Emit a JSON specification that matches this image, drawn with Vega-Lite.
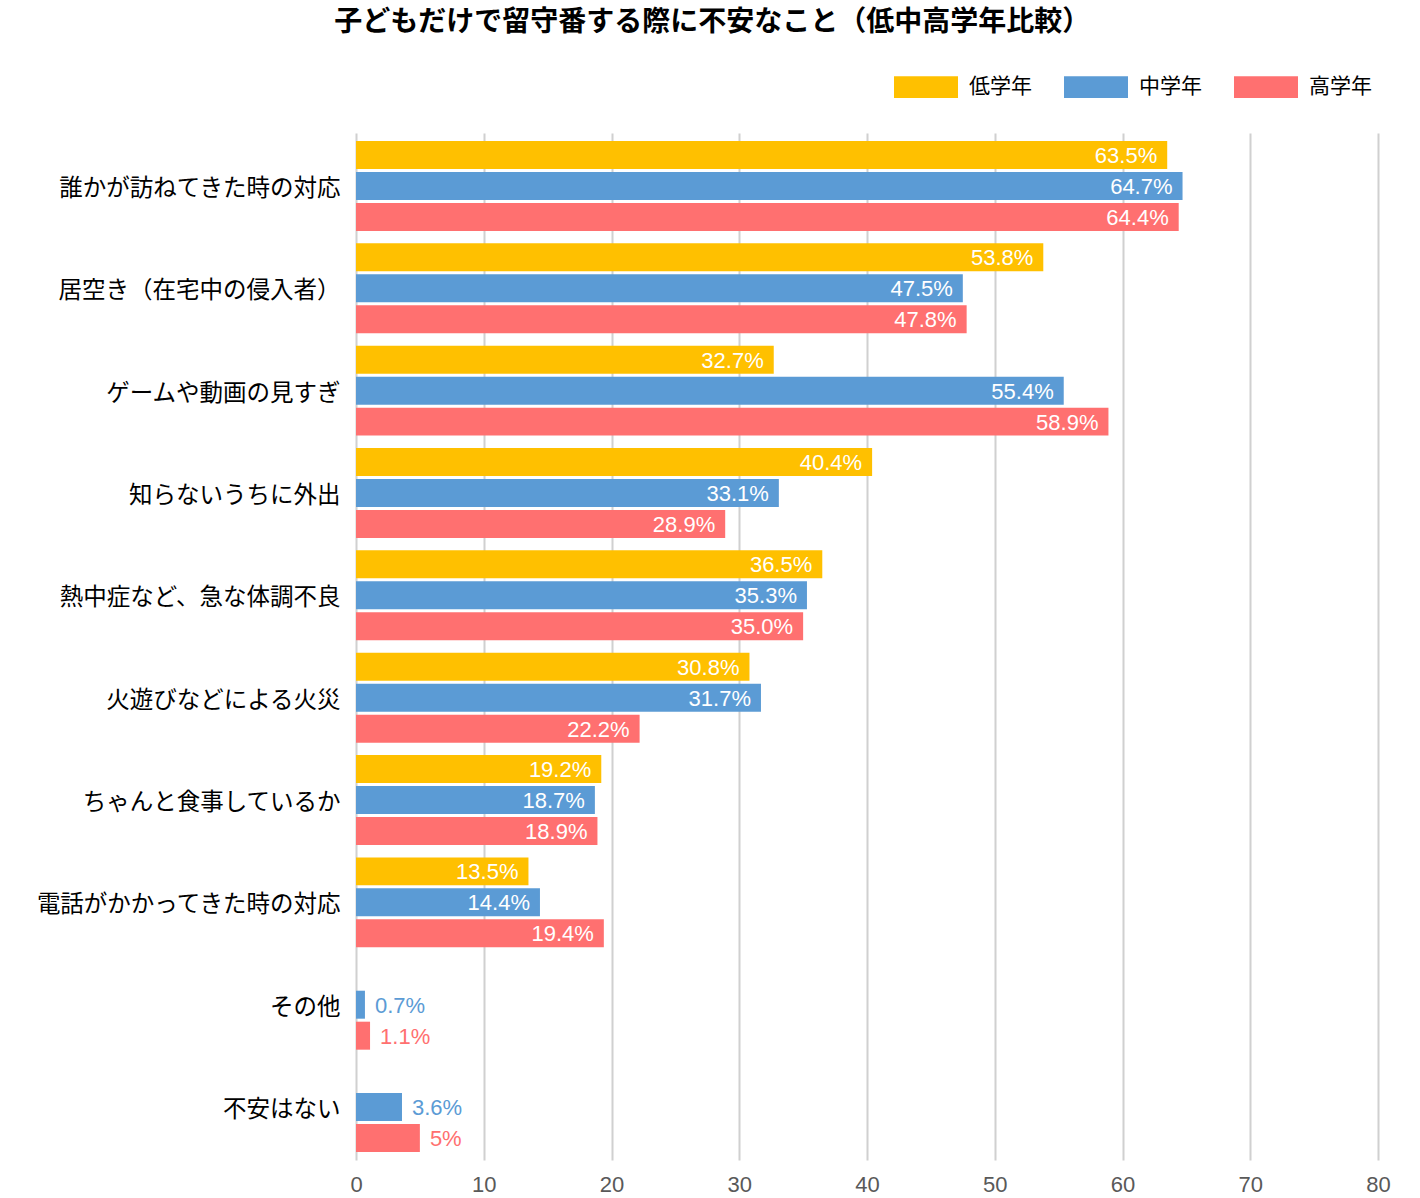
{
  "$schema": "https://vega.github.io/schema/vega-lite/v6.json",
  "description": "子どもだけで留守番する際に不安なこと",
  "autosize": {"type": "none"},
  "padding": {"left": 356, "top": 133, "right": 42, "bottom": 38},
  "width": 1022,
  "height": 1027,
  "background": "white",
  "title": {
    "text": "子どもだけで留守番する際に不安なこと（低中高学年比較）",
    "font": "Noto Sans CJK JP",
    "fontSize": 28,
    "fontWeight": "bold",
    "color": "#000000",
    "anchor": "middle",
    "frame": "bounds",
    "offset": 18
  },
  "data": {
    "values": [
      {"item": "誰かが訪ねてきた時の対応", "grade": "低学年", "value": 63.5, "label": "63.5%"},
      {"item": "誰かが訪ねてきた時の対応", "grade": "中学年", "value": 64.7, "label": "64.7%"},
      {"item": "誰かが訪ねてきた時の対応", "grade": "高学年", "value": 64.4, "label": "64.4%"},
      {"item": "居空き（在宅中の侵入者）", "grade": "低学年", "value": 53.8, "label": "53.8%"},
      {"item": "居空き（在宅中の侵入者）", "grade": "中学年", "value": 47.5, "label": "47.5%"},
      {"item": "居空き（在宅中の侵入者）", "grade": "高学年", "value": 47.8, "label": "47.8%"},
      {"item": "ゲームや動画の見すぎ", "grade": "低学年", "value": 32.7, "label": "32.7%"},
      {"item": "ゲームや動画の見すぎ", "grade": "中学年", "value": 55.4, "label": "55.4%"},
      {"item": "ゲームや動画の見すぎ", "grade": "高学年", "value": 58.9, "label": "58.9%"},
      {"item": "知らないうちに外出", "grade": "低学年", "value": 40.4, "label": "40.4%"},
      {"item": "知らないうちに外出", "grade": "中学年", "value": 33.1, "label": "33.1%"},
      {"item": "知らないうちに外出", "grade": "高学年", "value": 28.9, "label": "28.9%"},
      {"item": "熱中症など、急な体調不良", "grade": "低学年", "value": 36.5, "label": "36.5%"},
      {"item": "熱中症など、急な体調不良", "grade": "中学年", "value": 35.3, "label": "35.3%"},
      {"item": "熱中症など、急な体調不良", "grade": "高学年", "value": 35.0, "label": "35.0%"},
      {"item": "火遊びなどによる火災", "grade": "低学年", "value": 30.8, "label": "30.8%"},
      {"item": "火遊びなどによる火災", "grade": "中学年", "value": 31.7, "label": "31.7%"},
      {"item": "火遊びなどによる火災", "grade": "高学年", "value": 22.2, "label": "22.2%"},
      {"item": "ちゃんと食事しているか", "grade": "低学年", "value": 19.2, "label": "19.2%"},
      {"item": "ちゃんと食事しているか", "grade": "中学年", "value": 18.7, "label": "18.7%"},
      {"item": "ちゃんと食事しているか", "grade": "高学年", "value": 18.9, "label": "18.9%"},
      {"item": "電話がかかってきた時の対応", "grade": "低学年", "value": 13.5, "label": "13.5%"},
      {"item": "電話がかかってきた時の対応", "grade": "中学年", "value": 14.4, "label": "14.4%"},
      {"item": "電話がかかってきた時の対応", "grade": "高学年", "value": 19.4, "label": "19.4%"},
      {"item": "その他", "grade": "中学年", "value": 0.7, "label": "0.7%"},
      {"item": "その他", "grade": "高学年", "value": 1.1, "label": "1.1%"},
      {"item": "不安はない", "grade": "中学年", "value": 3.6, "label": "3.6%"},
      {"item": "不安はない", "grade": "高学年", "value": 5, "label": "5%"}
    ]
  },
  "encoding": {
    "y": {
      "field": "item",
      "type": "nominal",
      "sort": null,
      "title": null,
      "scale": {"paddingInner": 0.121, "paddingOuter": 0.078},
      "axis": {
        "domain": false,
        "ticks": false,
        "grid": false,
        "labelFont": "Noto Sans CJK JP",
        "labelFontSize": 23.5,
        "labelColor": "#000000",
        "labelPadding": 16,
        "labelOffset": 3,
        "labelLimit": 400
      }
    },
    "yOffset": {
      "field": "grade",
      "type": "nominal",
      "scale": {"domain": ["低学年", "中学年", "高学年"], "paddingInner": 0.097, "paddingOuter": 0}
    },
    "x": {
      "field": "value",
      "type": "quantitative",
      "title": null,
      "scale": {"domain": [0, 80], "nice": false},
      "axis": {
        "values": [0, 10, 20, 30, 40, 50, 60, 70, 80],
        "domain": false,
        "ticks": false,
        "labelFlush": false,
        "gridColor": "#d0d0d0",
        "gridWidth": 2,
        "labelFont": "Liberation Sans",
        "labelFontSize": 22,
        "labelColor": "#595959",
        "labelPadding": 14
      }
    }
  },
  "layer": [
    {
      "mark": {"type": "bar"},
      "encoding": {
        "color": {
          "field": "grade",
          "type": "nominal",
          "scale": {"domain": ["低学年", "中学年", "高学年"], "range": ["#FFC000", "#5B9BD5", "#FF7070"]},
          "legend": {
            "title": null,
            "orient": "none",
            "direction": "horizontal",
            "legendX": 538,
            "legendY": -78,
            "symbolType": "M-1,-0.34H1V0.34H-1Z",
            "symbolSize": 4096,
            "symbolStrokeWidth": 0,
            "labelFont": "Noto Sans CJK JP",
            "labelFontSize": 21,
            "labelColor": "#000000",
            "labelOffset": 11,
            "columnPadding": 32
          }
        }
      }
    },
    {
      "transform": [{"filter": "datum.value >= 10"}],
      "mark": {
        "type": "text",
        "align": "right",
        "baseline": "middle",
        "dx": -10,
        "dy": 1,
        "font": "Liberation Sans",
        "fontSize": 22,
        "color": "white"
      },
      "encoding": {"text": {"field": "label"}}
    },
    {
      "transform": [{"filter": "datum.value < 10"}],
      "mark": {
        "type": "text",
        "align": "left",
        "baseline": "middle",
        "dx": 10,
        "dy": 1,
        "font": "Liberation Sans",
        "fontSize": 22
      },
      "encoding": {
        "text": {"field": "label"},
        "color": {"field": "grade", "type": "nominal", "legend": null}
      }
    }
  ],
  "config": {"view": {"stroke": null}}
}
